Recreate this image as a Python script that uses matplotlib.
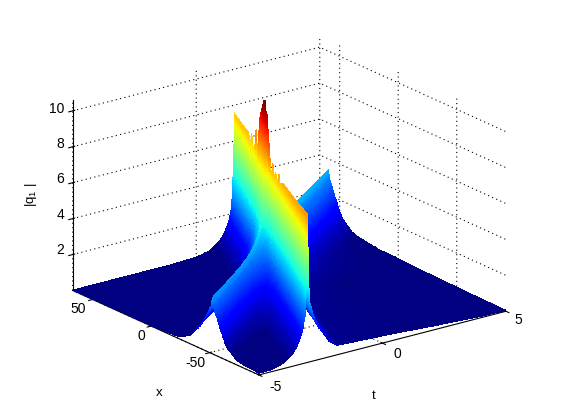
import numpy as np
import matplotlib
matplotlib.use('Agg')
import matplotlib.pyplot as plt
from mpl_toolkits.mplot3d.art3d import Poly3DCollection

plt.rcParams['font.family'] = ['Liberation Sans', 'DejaVu Sans']
plt.rcParams['mathtext.default'] = 'regular'
plt.rcParams['grid.linestyle'] = (0, (1, 3))
plt.rcParams['grid.color'] = 'k'
plt.rcParams['grid.linewidth'] = 0.8

# values
t_ticks = [-5, 0, 5]
x_ticks = [-50, 0, 50]
z_ticks = [2, 4, 6, 8, 10]
t_range = [-5, 5]
x_range = [-92, 67]
z_range = [0, 10.6]
color_range = [0.35, 10.7]

# main ridge: where its crest runs, and how high it is along x
main_ends_x = [-92, 67]
main_ends_t = [-3.02, 1.53]
main_crest_x = [-92, -38, -31.5, -30, -28.5, -24.5, -23, -18.5, -17, -15.5, -12.5, -8, -4, -2.3, 2.5,
                11, 15.4, 18.5, 19.7, 21, 25, 27.5, 29, 30.5, 37, 67]
main_crest_z = [8.2, 7.66, 7.3, 7.8, 7.3, 6.9, 7.3, 6.6, 7.4, 6.6, 6.05, 7.05, 7.9, 7.6, 8.4,
                8.05, 6.6, 6.8, 7.7, 6.8, 6.7, 6.9, 7.7, 6.9, 7.55, 7.54]

# second, lower ridge
second_ends_x = [-52, 59.4]
second_ends_t = [-5, 5]

# cross sections: distance from the crest in t, and height there
main_off = [-15, -2.5, -1.5, -1, -0.6, -0.4, -0.2, -0.1, -0.05, -0.03, -0.02, -0.01, -0.005,
            0, 0.005, 0.01, 0.02, 0.03, 0.05, 0.1, 0.2, 0.4, 0.9, 1.2, 3.7, 5, 7, 9, 15]
main_rel = [0, 0, 0.008, 0.03, 0.08, 0.13, 0.22, 0.32, 0.5, 0.6, 0.68, 0.8, 0.9,
            1, 0.9, 0.8, 0.68, 0.6, 0.5, 0.39, 0.32, 0.23, 0.1, 0.06, 0.04, 0.025, 0.007, 0, 0]
second_off = [-24, -4, -2.5, -1.7, -1, -0.5, -0.1, 0, 0.05, 0.1, 0.2, 0.4, 0.8, 1.07, 1.8, 2.3, 4, 24]
second_z = [0, 0.03, 0.12, 0.5, 1.2, 1.9, 2.6, 3.1, 2.75, 2.6, 2.4, 2.0, 1.2, 0.75, 0.28, 0.17, 0.04, 0]

# mesh that follows both crests, fine steps only stand in for shading interp
side = np.concatenate([np.geomspace(0.001, 0.3, 60), np.arange(0.35, 24, 0.06)])
a = np.concatenate([-side[::-1], [0], side])
b = a.copy()
qa = (main_ends_t[1] - main_ends_t[0]) / (main_ends_x[1] - main_ends_x[0])
pa = main_ends_t[0] - qa * main_ends_x[0]
qb = (second_ends_t[1] - second_ends_t[0]) / (second_ends_x[1] - second_ends_x[0])
pb = second_ends_t[0] - qb * second_ends_x[0]
A, B = np.meshgrid(a, b)
X = (A - B - (pb - pa)) / (qb - qa)
T = A + pa + qa * X
Z = np.interp(A, main_off, main_rel) * np.interp(X, main_crest_x, main_crest_z) \
    + np.interp(B, second_off, second_z)

m = 0.08
ok = (T > t_range[0] - m) & (T < t_range[1] + m) & (X > x_range[0] - 1.2) & (X < x_range[1] + 1.2)
T = np.clip(T, *t_range)
X = np.clip(X, *x_range)
P = np.stack([T, X, Z], axis=-1)
quads = np.stack([P[:-1, :-1], P[:-1, 1:], P[1:, 1:], P[1:, :-1]], axis=2)
keep = ok[:-1, :-1] & ok[:-1, 1:] & ok[1:, 1:] & ok[1:, :-1]
quads = quads[keep]
norm = plt.Normalize(*color_range)
colors = plt.cm.jet(norm(quads[:, :, 2].mean(axis=1)))

S = 468.0
fig = plt.figure(figsize=(5.61, 4.2), dpi=100)
ax = fig.add_axes([49.0 / 561, -26.0 / 420, S / 561, S / 420], projection='3d', proj_type='ortho')
ax.view_init(elev=20, azim=-127)
ax.set_box_aspect((1, 1, 0.655))

surf = Poly3DCollection(quads, facecolors=colors, edgecolors='none', linewidths=0, antialiased=False)
ax.add_collection3d(surf)

ax.set_xlim(t_range)
ax.set_ylim(x_range)
ax.set_zlim(z_range)
ax.set_xticks(t_ticks)
ax.set_yticks(x_ticks)
ax.set_zticks(z_ticks)
ax.set_xticklabels([])
ax.set_yticklabels([])
ax.set_zticklabels([])
ax.patch.set_alpha(0)
for axis in (ax.xaxis, ax.yaxis, ax.zaxis):
    axis.set_pane_color((1, 1, 1, 1))
    axis.pane.set_edgecolor((1, 1, 1, 0))
    axis.line.set_color('k')
    axis.line.set_linewidth(0.8)


def px_text(px, py, s, **kw):
    # mplot3d only offers a pad for its tick labels, so these go by pixel
    kw.setdefault('ha', 'center')
    fig.text(px / 561, 1 - py / 420, s, va='center', **kw)


for value, px, py in zip(t_ticks, [276, 397, 518], [387, 354, 320]):
    px_text(px, py, str(value), fontsize=10)
for value, px, py in zip(x_ticks, [195, 141, 78], [363, 336, 309]):
    px_text(px, py, str(value), fontsize=10)
for value, py in zip(z_ticks, [250, 215, 179, 144, 109]):
    px_text(64, py, str(value), fontsize=10, ha='right')

px_text(31, 195, '|q$_1$ |', rotation=90, fontsize=9.5)
px_text(159, 393, 'x', fontsize=9.5)
px_text(374, 396, 't', fontsize=9.5)

fig.savefig('out.png', dpi=100)
